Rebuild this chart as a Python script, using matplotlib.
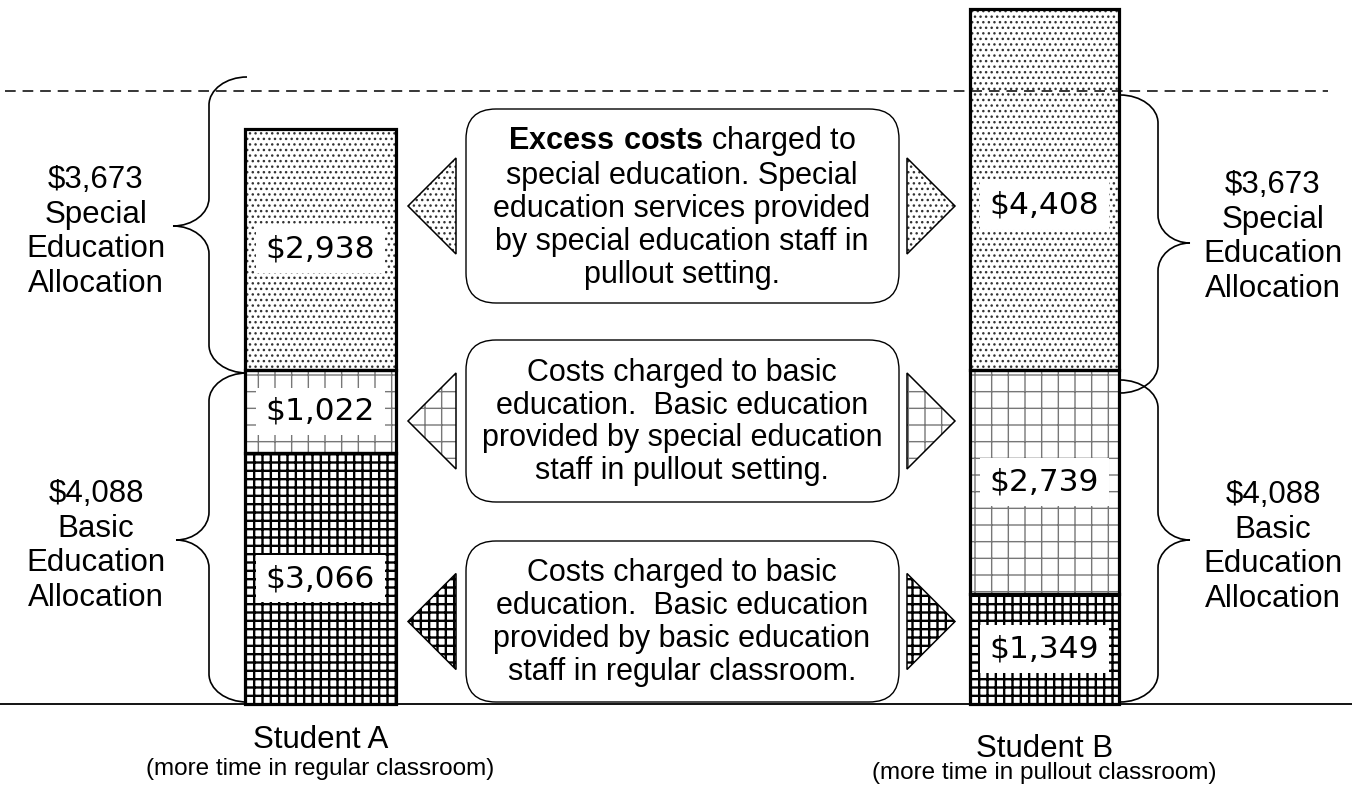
import matplotlib
matplotlib.use("Agg")
import matplotlib.pyplot as plt
from matplotlib.patches import FancyBboxPatch, Polygon, PathPatch
from matplotlib.path import Path

# Data
students = ["Student A", "Student B"]
settings = ["(more time in regular classroom)", "(more time in pullout classroom)"]
basic_regular = [3066, 1349]
basic_pullout = [1022, 2739]
excess_special = [2938, 4408]
special_allocation = 3673
basic_allocation = 4088

box_texts = [
    "$\\mathbf{Excess\\ costs}$ charged to\nspecial education. Special\neducation services provided\nby special education staff in\npullout setting.",
    "Costs charged to basic\neducation.  Basic education\nprovided by special education\nstaff in pullout setting.",
    "Costs charged to basic\neducation.  Basic education\nprovided by basic education\nstaff in regular classroom.",
]

# Layout (pixels, y measured from top)
W, H = 1352, 785
BASE = 704
PX_PER_DOLLAR = 0.0818
bar_x = [320.5, 1044.5]
bar_w = [151, 149]

plt.rcParams['font.family'] = 'Liberation Sans'
plt.rcParams['mathtext.fontset'] = 'custom'
plt.rcParams['mathtext.rm'] = 'Liberation Sans'
plt.rcParams['mathtext.bf'] = 'Liberation Sans:bold'

# hatch, colour, hatch linewidth
styles = {
    "dots": ("...", "#333333", 1.0),
    "dotgrid": ("+", "#777777", 1.0),
    "grid": ("++", "black", 1.7),
}

fig = plt.figure(figsize=(W / 100, H / 100), dpi=100)
ax = fig.add_axes([0, 0, 1, 1])
ax.set_xlim(0, W)
ax.set_ylim(-(H - BASE) / PX_PER_DOLLAR, BASE / PX_PER_DOLLAR)
ax.axis("off")

# pixel axes on top for the annotations
lay = fig.add_axes([0, 0, 1, 1])
lay.set_xlim(0, W)
lay.set_ylim(H, 0)
lay.axis("off")


def set_hatch_lw(patch, lw):
    if hasattr(patch, "set_hatch_linewidth"):
        patch.set_hatch_linewidth(lw)


# Stacked bars
bottoms = [0, 0]
segments = [(basic_regular, "grid"), (basic_pullout, "dotgrid"), (excess_special, "dots")]
label_shift = {("dots", 1): -16}   # pixels, negative = lower
for values, style in segments:
    hatch, hcolor, hlw = styles[style]
    bars = ax.bar(bar_x, values, bar_w, bottom=bottoms, color="white", edgecolor=hcolor,
                  linewidth=0, hatch=hatch, zorder=1)
    for b in bars:
        set_hatch_lw(b, hlw)
    ax.bar(bar_x, values, bar_w, bottom=bottoms, fill=False, edgecolor="black",
           linewidth=2.3, zorder=2)
    for i, v in enumerate(values):
        y = bottoms[i] + v / 2 + label_shift.get((style, i), 0) / PX_PER_DOLLAR
        ax.text(bar_x[i], y, f"${v:,}", ha="center", va="center", fontsize=22.5,
                family="DejaVu Sans", zorder=3,
                bbox=dict(boxstyle="square,pad=0.3", fc="white", ec="none"))
    bottoms = [bottoms[i] + values[i] for i in range(2)]

ax.axhline(0, color="black", lw=1.3, zorder=4)

# Description boxes with arrows
box_rows = [(109, 303, "dots"), (340, 502, "dotgrid"), (541, 702, "grid")]
for (top, bot, style), txt in zip(box_rows, box_texts):
    box = FancyBboxPatch((466, top), 433, bot - top, boxstyle="round,pad=0,rounding_size=30",
                         fc="white", ec="black", lw=1.0)
    lay.add_patch(box)
    cy = (top + bot) / 2
    lay.text(682, cy + 1, txt, ha="center", va="center", fontsize=22, linespacing=1.13)
    hatch, hcolor, hlw = styles[style]
    for pts in ([(408, cy), (456, cy - 48), (456, cy + 48)],
                [(955, cy), (907, cy - 48), (907, cy + 48)]):
        tri = Polygon(pts, closed=True, fc="white", ec=hcolor, lw=0, hatch=hatch)
        set_hatch_lw(tri, hlw)
        lay.add_patch(tri)
        lay.add_patch(Polygon(pts, closed=True, fill=False, ec="black", lw=1.1))


def brace(xe, xl, xt, yt, yb, ym, r=28):
    k = 0.55
    verts = [
        (xe, yt), (xe + (xl - xe) * k, yt), (xl, yt + r * (1 - k)), (xl, yt + r),
        (xl, ym - r),
        (xl, ym - r * (1 - k)), (xl + (xt - xl) * (1 - k), ym), (xt, ym),
        (xl + (xt - xl) * (1 - k), ym), (xl, ym + r * (1 - k)), (xl, ym + r),
        (xl, yb - r),
        (xl, yb - r * (1 - k)), (xe + (xl - xe) * k, yb), (xe, yb),
    ]
    codes = [Path.MOVETO, Path.CURVE4, Path.CURVE4, Path.CURVE4, Path.LINETO,
             Path.CURVE4, Path.CURVE4, Path.CURVE4,
             Path.CURVE4, Path.CURVE4, Path.CURVE4, Path.LINETO,
             Path.CURVE4, Path.CURVE4, Path.CURVE4]
    lay.add_patch(PathPatch(Path(verts, codes), fill=False, ec="black", lw=1.2))


brace(247, 209, 173, 77, 373, 226)
brace(247, 209, 176, 373, 702, 540)
brace(1120, 1158, 1190, 95, 393, 243)
brace(1120, 1158, 1190, 380, 702, 540)

special_lbl = f"${special_allocation:,}\nSpecial\nEducation\nAllocation"
basic_lbl = f"${basic_allocation:,}\nBasic\nEducation\nAllocation"
for x, y, txt in [(96, 232, special_lbl), (96, 546, basic_lbl),
                  (1273, 237, special_lbl), (1273, 547, basic_lbl)]:
    lay.text(x, y, txt.replace("$", "\\$"), ha="center", va="center", fontsize=22.5,
             linespacing=1.2)

# dashed reference line
lay.plot([5, 1328], [91, 91], color="black", lw=1.1, ls=(0, (7, 4.5)))

# student labels
for x, y, name, sub in [(bar_x[0], 740, students[0], settings[0]),
                        (bar_x[1], 749, students[1], settings[1])]:
    lay.text(x, y, name, ha="center", va="center", fontsize=22.5)
    lay.text(x, y + 29 if x < 600 else y + 24, sub, ha="center", va="center", fontsize=17.5)

fig.savefig("out.png", dpi=100)
